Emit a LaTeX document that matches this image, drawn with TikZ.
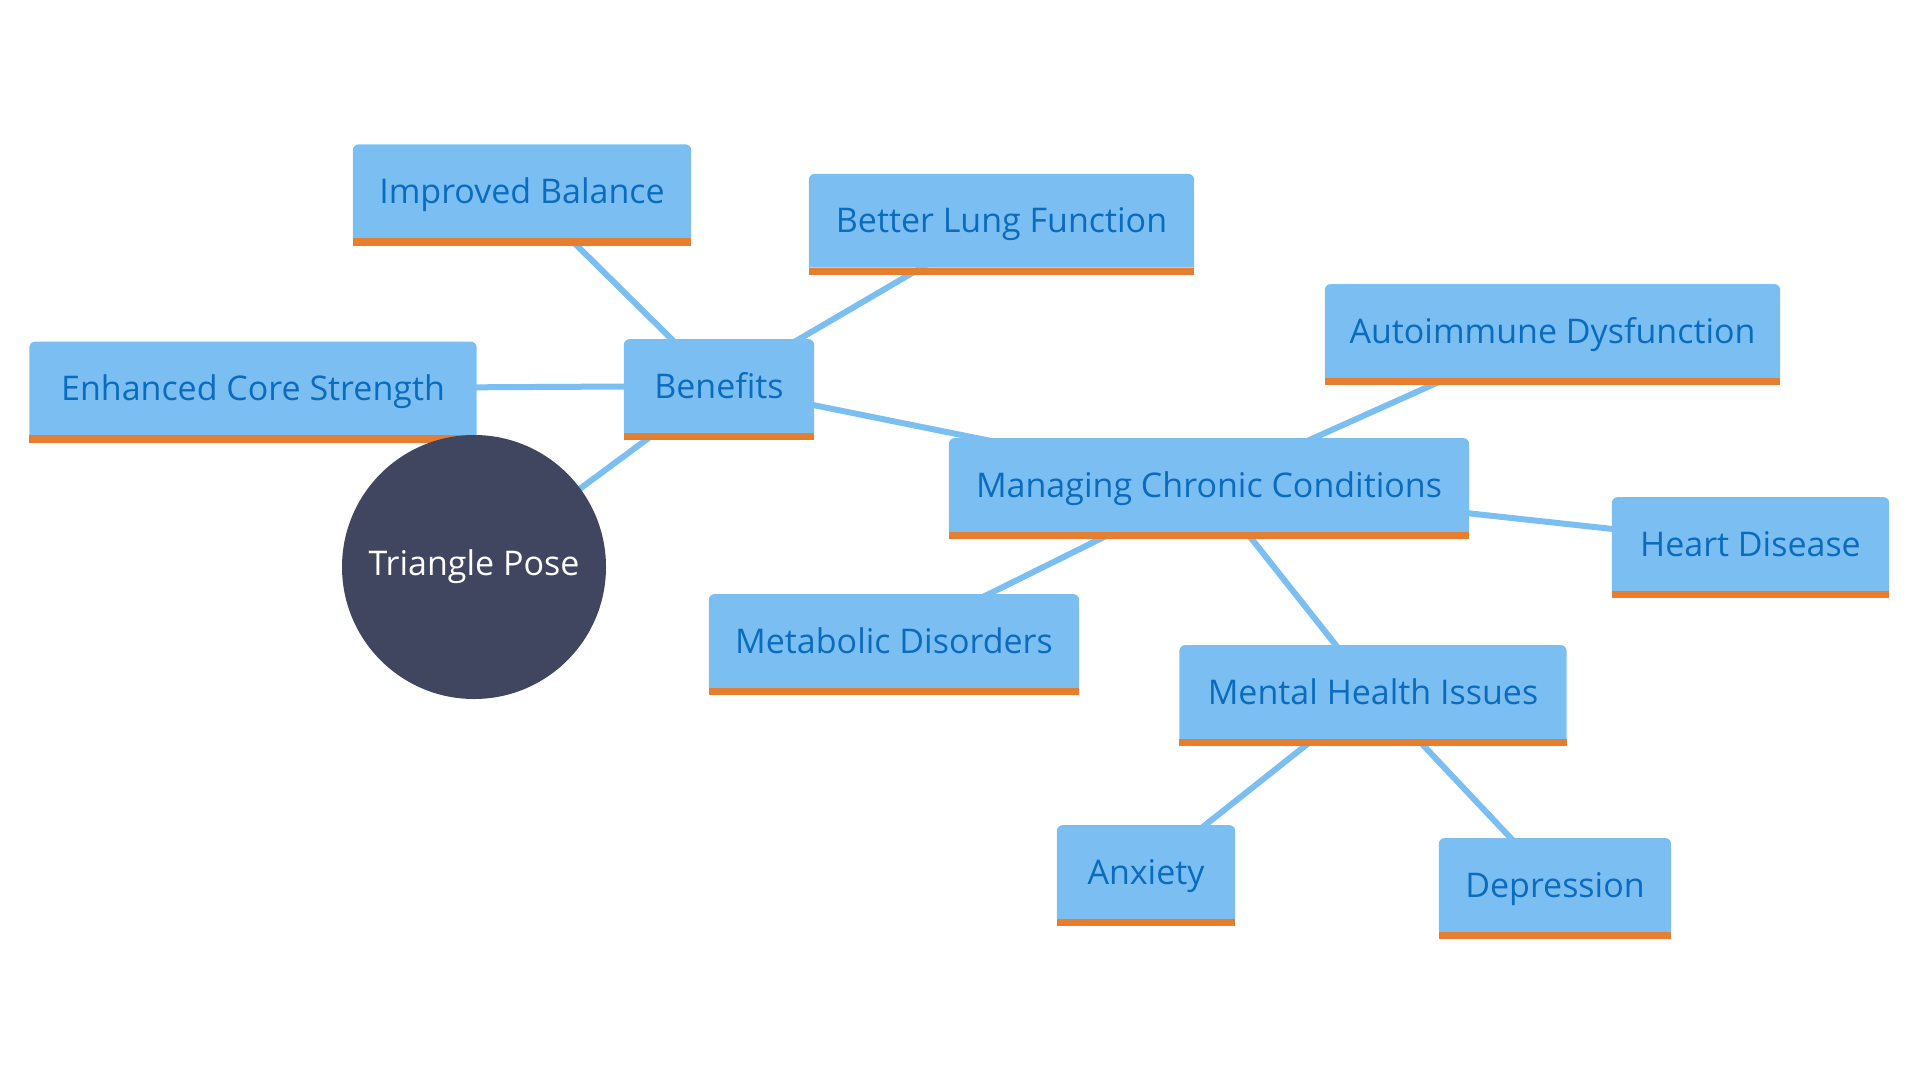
\documentclass[tikz,border=0pt]{standalone}
\usepackage{fontspec}
\setmainfont{Open Sans}
\definecolor{boxblue}{HTML}{7BBFF2}
\definecolor{txtblue}{HTML}{0B6BBF}
\definecolor{barorange}{HTML}{E67E2E}
\definecolor{hubgray}{HTML}{40465F}
\pgfdeclarelayer{edges}
\pgfdeclarelayer{boxes}
\pgfsetlayers{edges,boxes,main}
\tikzset{
  topic/.style={rectangle, inner sep=0pt, minimum height=93.5pt, text=txtblue,
    font=\fontsize{34}{40}\selectfont, text height=24.2pt, text depth=0pt},
  boxfill/.style={fill=boxblue},
  barfill/.style={fill=barorange},
  hub/.style={circle, fill=hubgray, minimum size=264pt, inner sep=0pt, text=white,
    font=\fontsize{34}{40}\selectfont},
  link/.style={draw=boxblue, line width=6pt}
}
\newcommand\topicbox[4]{%
  \node[topic, minimum width=#3pt] (#1) at (#2) {#4};
  \begin{pgfonlayer}{boxes}
    \path[boxfill] (#1.south west) [rounded corners=6pt] -- (#1.north west) -- (#1.north east) [sharp corners] -- (#1.south east) -- cycle;
    \path[barfill] (#1.south west) rectangle ([yshift=-7.5pt]#1.south east);
  \end{pgfonlayer}}
\begin{document}
\begin{tikzpicture}[x=1pt, y=-1pt]
  \useasboundingbox (0,0) rectangle (1920,1080);
  \topicbox{ib}{522,191.25}{338}{Improved Balance}
  \topicbox{blf}{1001.5,220.75}{385}{Better Lung Function}
  \topicbox{ecs}{253,388.5}{447}{Enhanced Core Strength}
  \topicbox{ben}{719,386}{190}{Benefits}
  \topicbox{ad}{1552.5,331}{455}{Autoimmune Dysfunction}
  \topicbox{mcc}{1209,485}{520}{Managing Chronic Conditions}
  \topicbox{hd}{1750.5,544}{277}{Heart Disease}
  \topicbox{md}{894,641}{370}{Metabolic Disorders}
  \topicbox{mhi}{1373,692}{387}{Mental Health Issues}
  \topicbox{anx}{1146,872}{178}{Anxiety}
  \topicbox{dep}{1555,885}{232}{Depression}
  \node[hub] (tp) at (474,567) {Triangle Pose};
  \begin{pgfonlayer}{edges}
    \draw[link] (tp.center) -- (ben.center);
    \draw[link] (ben.center) -- (ib.center);
    \draw[link] (ben.center) -- (blf.center);
    \draw[link] (ben.center) -- (ecs.center);
    \draw[link] (ben.center) -- (mcc.center);
    \draw[link] (mcc.center) -- (ad.center);
    \draw[link] (mcc.center) -- (hd.center);
    \draw[link] (mcc.center) -- (md.center);
    \draw[link] (mcc.center) -- (mhi.center);
    \draw[link] (mhi.center) -- (anx.center);
    \draw[link] (mhi.center) -- (dep.center);
  \end{pgfonlayer}
\end{tikzpicture}
\end{document}
